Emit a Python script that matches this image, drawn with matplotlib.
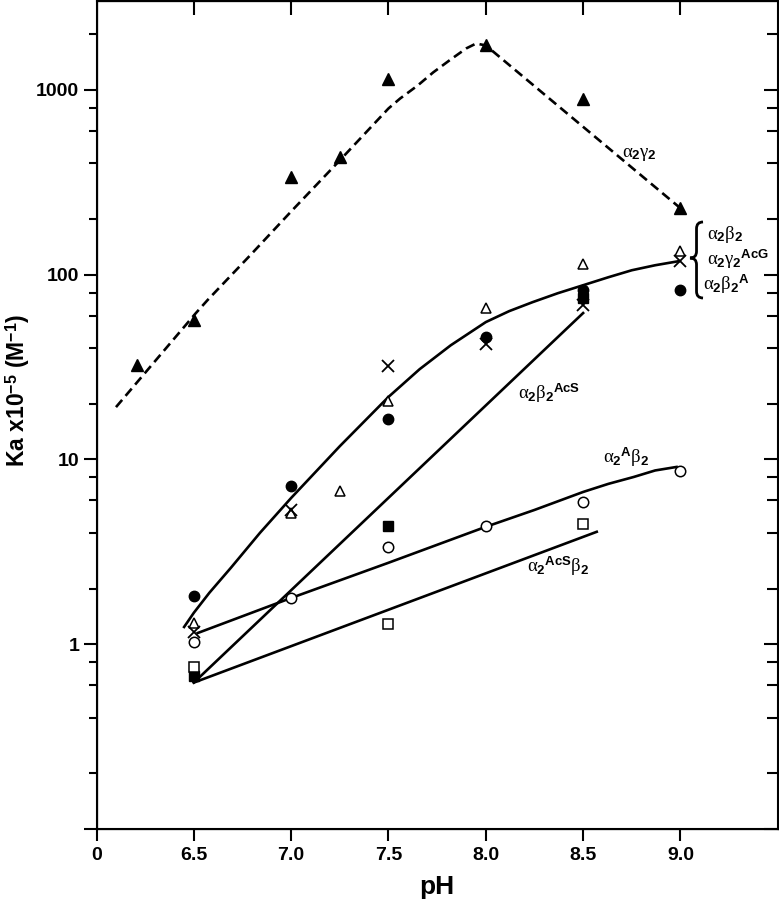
import matplotlib
matplotlib.use("Agg")
import matplotlib.pyplot as plt
from matplotlib.path import Path
from matplotlib.patches import PathPatch
from matplotlib.ticker import FixedLocator, LogLocator, NullFormatter

plt.rcParams['font.family'] = ['Liberation Sans', 'DejaVu Sans']
plt.rcParams['font.weight'] = 'bold'
plt.rcParams['mathtext.fontset'] = 'custom'
plt.rcParams['mathtext.rm'] = 'Liberation Serif:regular'
plt.rcParams['mathtext.it'] = 'Liberation Serif:regular'
plt.rcParams['mathtext.bf'] = 'Liberation Sans:bold'

# measured points (pH, Ka x10-5)
ph_g2 = [6.21, 6.5, 7.0, 7.25, 7.5, 8.0, 8.5, 9.0]          # a2g2, filled triangles
ka_g2 = [32.4, 56.8, 337, 432, 1153, 1742, 888, 229]

ph_b2 = [6.5, 7.0, 7.25, 7.5, 8.0, 8.5, 9.0]                # a2b2, open triangles
ka_b2 = [1.31, 5.14, 6.76, 20.7, 66, 114, 134]

ph_acg = [6.5, 7.0, 7.5, 8.0, 8.5, 9.0]                     # a2g2AcG, crosses
ka_acg = [1.17, 5.33, 32, 42, 68.4, 118]

ph_b2a = [6.5, 7.0, 7.5, 8.0, 8.5, 9.0]                     # a2b2A, filled circles
ka_b2a = [1.83, 7.19, 16.5, 45.9, 83, 82.5]

ph_b2acs = [6.5, 7.5, 8.5]                                  # a2b2AcS, filled squares
ka_b2acs = [0.676, 4.37, 75]

ph_a2ab = [6.5, 7.0, 7.5, 8.0, 8.5, 9.0]                    # a2Ab2, open circles
ka_a2ab = [1.03, 1.78, 3.37, 4.37, 5.89, 8.67]

ph_a2acs = [6.5, 7.5, 8.5]                                  # a2AcSb2, open squares
ka_a2acs = [0.755, 1.29, 4.48]

# fitted curves
fit_g2_ph = [6.1, 6.51, 6.57, 6.79, 7.0, 7.25, 7.5, 7.56, 7.65, 7.73, 7.82, 7.9, 7.95, 8.0, 9.0]
fit_g2_ka = [19.2, 61.9, 72.8, 127.5, 220, 416, 794, 899, 1057, 1245, 1463, 1679, 1783, 1742, 229]

fit_b2_ph = [6.45, 6.5, 6.58, 6.69, 6.84, 7.0, 7.25, 7.5, 7.66, 7.82, 8.0,
             8.12, 8.24, 8.37, 8.5, 8.63, 8.75, 8.87, 8.99]
fit_b2_ka = [1.24, 1.48, 1.90, 2.59, 4.01, 6.19, 11.8, 21.8, 30.8, 41.5, 55.4,
             63.5, 71.0, 79.4, 87.7, 96.9, 105.7, 112.5, 118.3]

fit_b2acs_ph = [6.5, 8.5]
fit_b2acs_ka = [0.62, 62]

fit_a2ab_ph = [6.52, 7.0, 7.5, 8.0, 8.25, 8.5, 8.63, 8.76, 8.87, 8.98]
fit_a2ab_ka = [1.15, 1.78, 2.76, 4.32, 5.33, 6.67, 7.38, 8.04, 8.72, 9.11]

fit_a2acs_ph = [6.5, 8.57]
fit_a2acs_ka = [0.62, 4.06]

x_ticks = [6.0, 6.5, 7.0, 7.5, 8.0, 8.5, 9.0]
x_labels = ["0", "6.5", "7.0", "7.5", "8.0", "8.5", "9.0"]
y_ticks = [0.1, 1, 10, 100, 1000]
y_labels = ["", "1", "10", "100", "1000"]

fig = plt.figure(figsize=(7.79, 9.0), dpi=100)
ax = fig.add_axes([0.1239, 0.0789, 0.8745, 0.92])
ax.set_yscale('log')
ax.set_xlim(6.0, 9.5)
ax.set_ylim(0.1, 3030)

lw = 1.9
ax.plot(fit_g2_ph, fit_g2_ka, color='black', lw=lw, linestyle=(0, (3.6, 2.0)))
ax.plot(fit_b2_ph, fit_b2_ka, color='black', lw=lw)
ax.plot(fit_b2acs_ph, fit_b2acs_ka, color='black', lw=lw)
ax.plot(fit_a2ab_ph, fit_a2ab_ka, color='black', lw=lw)
ax.plot(fit_a2acs_ph, fit_a2acs_ka, color='black', lw=lw)

ax.plot(ph_g2, ka_g2, '^', color='black', ms=8.5, ls='none')
ax.plot(ph_b2, ka_b2, '^', mfc='white', mec='black', mew=1.1, ms=7.5, ls='none')
ax.plot(ph_acg, ka_acg, 'x', color='black', mew=1.3, ms=8.5, ls='none')
ax.plot(ph_b2a, ka_b2a, 'o', color='black', ms=7.5, ls='none')
ax.plot(ph_b2acs, ka_b2acs, 's', color='black', ms=6.5, ls='none')
ax.plot(ph_a2ab, ka_a2ab, 'o', mfc='white', mec='black', mew=1.1, ms=7.5, ls='none')
ax.plot(ph_a2acs, ka_a2acs, 's', mfc='white', mec='black', mew=1.1, ms=6.5, ls='none')

# curve labels
fs = 13.5
ax.text(8.70, 432, r'$\alpha_{\mathbf{2}}\gamma_{\mathbf{2}}$', fontsize=fs, va='baseline')
ax.text(8.165, 21.2, r'$\alpha_{\mathbf{2}}\beta_{\mathbf{2}}{}^{\mathbf{AcS}}$', fontsize=fs, va='baseline')
ax.text(8.60, 9.57, r'$\alpha_{\mathbf{2}}{}^{\mathbf{A}}\beta_{\mathbf{2}}$', fontsize=fs, va='baseline')
ax.text(8.21, 2.47, r'$\alpha_{\mathbf{2}}{}^{\mathbf{AcS}}\beta_{\mathbf{2}}$', fontsize=fs, va='baseline')
ax.text(9.136, 157, r'$\alpha_{\mathbf{2}}\beta_{\mathbf{2}}$', fontsize=fs, va='baseline')
ax.text(9.136, 113, r'$\alpha_{\mathbf{2}}\gamma_{\mathbf{2}}{}^{\mathbf{AcG}}$', fontsize=fs, va='baseline')
ax.text(9.116, 82.5, r'$\alpha_{\mathbf{2}}\beta_{\mathbf{2}}{}^{\mathbf{A}}$', fontsize=fs, va='baseline')

# curly brace grouping the three upper curves
x0, w = 0.8712, 0.0191
ytop, yc, ybot, r = 0.7331, 0.6896, 0.6413, 0.008
xm = x0 + w / 2
verts = [(x0 + w, ytop), (xm, ytop), (xm, ytop - r), (xm, yc + r),
         (xm, yc), (x0, yc), (xm, yc), (xm, yc - r),
         (xm, ybot + r), (xm, ybot), (x0 + w, ybot)]
codes = [Path.MOVETO, Path.CURVE3, Path.CURVE3, Path.LINETO,
         Path.CURVE3, Path.CURVE3, Path.CURVE3, Path.CURVE3,
         Path.LINETO, Path.CURVE3, Path.CURVE3]
ax.add_patch(PathPatch(Path(verts, codes), transform=ax.transAxes,
                       fill=False, lw=2.0, color='black', clip_on=False))

# axes, ticks
for s in ax.spines.values():
    s.set_linewidth(1.5)
ax.set_xticks(x_ticks, x_labels)
ax.set_yticks(y_ticks, y_labels)
ax.yaxis.set_minor_locator(LogLocator(base=10, subs=(2, 4, 6, 8)))
ax.yaxis.set_minor_formatter(NullFormatter())
ax.tick_params(axis='x', which='major', direction='out', length=8.6, width=1.5,
               labelsize=14, pad=4.5, top=False)
ax.tick_params(axis='y', which='major', direction='out', length=9.4, width=1.5,
               labelsize=14, pad=3, right=False)
ax.tick_params(axis='y', which='minor', direction='out', length=5.8, width=1.5, right=False)

ax_top = ax.twiny()
ax_top.set_xlim(ax.get_xlim())
ax_top.set_xticks(x_ticks[1:])
ax_top.tick_params(axis='x', direction='in', length=10, width=1.5, labeltop=False)

ax_right = ax.twinx()
ax_right.set_yscale('log')
ax_right.set_ylim(ax.get_ylim())
ax_right.yaxis.set_major_locator(FixedLocator(y_ticks))
ax_right.yaxis.set_minor_locator(LogLocator(base=10, subs=(2, 4, 6, 8)))
ax_right.yaxis.set_minor_formatter(NullFormatter())
ax_right.tick_params(axis='y', which='major', direction='in', length=10, width=1.5, labelright=False)
ax_right.tick_params(axis='y', which='minor', direction='in', length=8, width=1.5)

ax.set_xlabel('pH', fontsize=19, fontweight='bold')
ax.xaxis.set_label_coords(0.5, -0.055)
ax.set_ylabel(r'Ka x10$^{\mathbf{-5}}$ (M$^{\mathbf{-1}}$)', fontsize=16.5, fontweight='bold')
ax.yaxis.set_label_coords(-0.094, 0.53)

fig.savefig('out.png', dpi=100)
